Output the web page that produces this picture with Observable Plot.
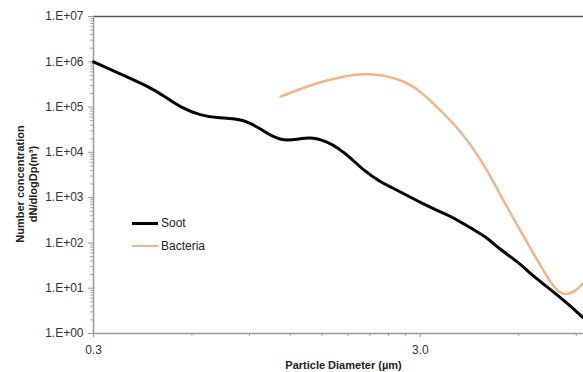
<!DOCTYPE html>
<html>
<head>
<meta charset="utf-8">
<script src="https://cdn.jsdelivr.net/npm/d3@7"></script>
<script src="https://cdn.jsdelivr.net/npm/@observablehq/plot@0.6"></script>
<style>
  body { margin: 0; background: #fff; }
  #wrap { position: relative; width: 583px; height: 372px; font-family: "Liberation Sans", Arial, sans-serif; }
  .leg { position: absolute; left: 132px; font-size: 12px; color: #222; display: flex; align-items: center; }
  .leg span.sw { display: inline-block; width: 26px; margin-right: 3px; }
</style>
</head>
<body>
<div id="wrap"></div>
<script>
// Soot series
const sootD = [0.3, 0.371, 0.448, 0.491, 0.554, 0.638, 0.724, 0.863, 0.993, 1.14, 1.38, 1.57, 1.67, 1.83, 2.01, 2.27, 2.43, 2.85, 3.0, 3.38, 3.79, 4.05, 4.81, 5.16, 6.07, 6.5, 7.35, 8.47, 9.47];
const sootN = [1.0e6, 5.0e5, 2.7e5, 1.78e5, 9.8e4, 6.5e4, 5.7e4, 5.6e4, 3.0e4, 1.6e4, 2.35e4, 1.66e4, 1.29e4, 7.8e3, 4.0e3, 2.2e3, 1.74e3, 9.5e2, 7.9e2, 5.2e2, 3.6e2, 2.7e2, 1.32e2, 7.9e1, 3.5e1, 2.1e1, 1.05e1, 4.6, 2.2];
// Bacteria series
const bactD = [1.12, 1.45, 1.75, 2.06, 2.6, 3.0, 3.38, 3.79, 4.27, 4.81, 5.38, 6.07, 6.84, 7.65, 8.21, 9.06, 9.47];
const bactN = [1.7e5, 3.5e5, 4.8e5, 5.7e5, 4.3e5, 2.3e5, 9.8e4, 4.4e4, 1.55e4, 4.0e3, 8.7e2, 1.86e2, 4.1e1, 1.05e1, 6.6, 8.9, 1.35e1];
// Axis ticks
const yMajor = [1, 1e1, 1e2, 1e3, 1e4, 1e5, 1e6, 1e7];
const yLabels = ["1.E+00", "1.E+01", "1.E+02", "1.E+03", "1.E+04", "1.E+05", "1.E+06", "1.E+07"];
const xMajor = [0.3, 3.0];
const xLabels = ["0.3", "3.0"];
const xMinor = [0.6, 0.9, 1.2, 1.5, 1.8, 2.1, 2.4, 2.7, 6.0, 9.0];
const xMax = 9.47;

const yMinor = [];
for (let e = 0; e < 7; e++) for (let k = 2; k <= 9; k++) yMinor.push(k * Math.pow(10, e));

const soot = sootD.map((d, i) => ({d, n: sootN[i]}));
const bact = bactD.map((d, i) => ({d, n: bactN[i]}));

const font = "Liberation Sans, Arial, sans-serif";

const chart = Plot.plot({
  width: 583,
  height: 372,
  marginLeft: 93,
  marginRight: 0,
  marginTop: 16,
  marginBottom: 39,
  style: {fontFamily: font, fontSize: "12px", background: "#fff"},
  x: {type: "log", domain: [0.3, xMax]},
  y: {type: "log", domain: [1, 1e7]},
  marks: [
    Plot.ruleY([1e7], {stroke: "#555", strokeWidth: 1.5}),
    Plot.axisY(yMinor, {tickSize: 3, stroke: "#aaa", tickFormat: () => "", label: null}),
    Plot.axisY(yMajor, {tickSize: 5, stroke: "#999", fill: "#333", tickPadding: 5, tickFormat: d => yLabels[yMajor.indexOf(d)], label: null}),
    Plot.axisX(xMinor, {tickSize: 3, stroke: "#aaa", tickFormat: () => "", label: null}),
    Plot.axisX(xMajor, {tickSize: 4, stroke: "#999", fill: "#333", tickPadding: 8, tickFormat: d => xLabels[xMajor.indexOf(d)], label: null}),
    Plot.ruleX([0.3], {stroke: "#999", strokeWidth: 1.5}),
    Plot.ruleY([1], {stroke: "#999", strokeWidth: 1.5}),
    Plot.line(bact, {x: "d", y: "n", stroke: "#f3b58b", strokeWidth: 2.5, curve: "basis"}),
    Plot.line(soot, {x: "d", y: "n", stroke: "#000", strokeWidth: 3, curve: "basis"}),
    Plot.text(["Number concentration\ndN/dlogDp(m³)"], {frameAnchor: "left", textAnchor: "middle", rotate: -90, dx: -67, dy: 9, fontWeight: "bold", fontSize: 11, fill: "#222", lineHeight: 1.15, lineAnchor: "middle"}),
    Plot.text(["Particle Diameter (µm)"], {frameAnchor: "bottom", dx: 5, dy: 35, fontWeight: "bold", fontSize: 11, fill: "#222"})
  ]
});

const wrap = document.getElementById("wrap");
wrap.appendChild(chart);

const legendItems = [
  {name: "Soot", color: "#000", w: 3, top: 216},
  {name: "Bacteria", color: "#f3b58b", w: 2.5, top: 239}
];
for (const it of legendItems) {
  const div = document.createElement("div");
  div.className = "leg";
  div.style.top = it.top + "px";
  const sw = document.createElement("span");
  sw.className = "sw";
  sw.style.borderTop = it.w + "px solid " + it.color;
  div.appendChild(sw);
  div.appendChild(document.createTextNode(it.name));
  wrap.appendChild(div);
}
</script>
</body>
</html>
